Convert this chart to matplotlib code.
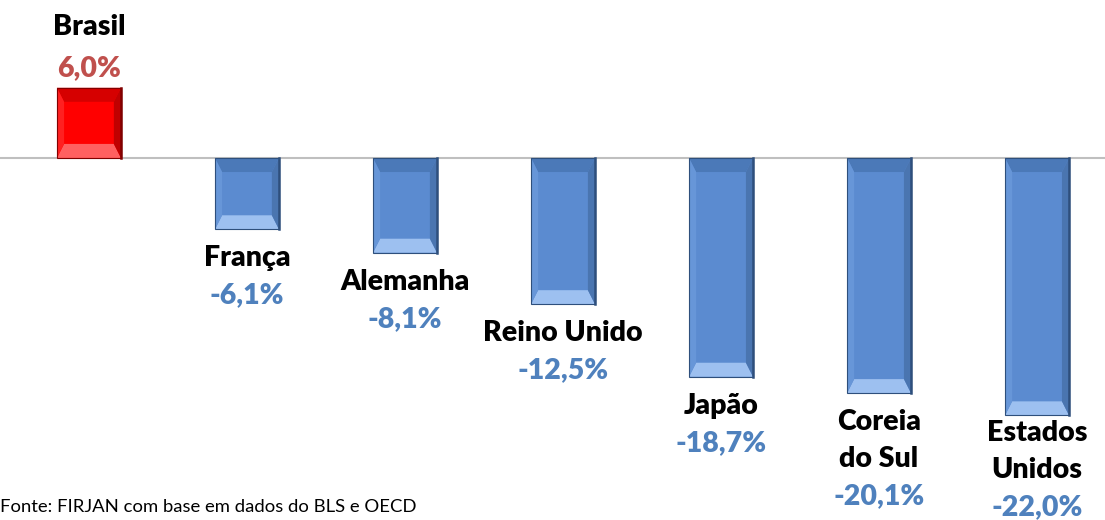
import matplotlib.pyplot as plt
from matplotlib.patches import Polygon, Rectangle

paises = ['Brasil', 'França', 'Alemanha', 'Reino Unido', 'Japão', 'Coreia\ndo Sul', 'Estados\nUnidos']
valores = [6.0, -6.1, -8.1, -12.5, -18.7, -20.1, -22.0]
rotulos = ['6,0%', '-6,1%', '-8,1%', '-12,5%', '-18,7%', '-20,1%', '-22,0%']

fonte = 'Lato'
azul = dict(face='#5B8BD0', top='#4B79B8', bot='#9DC0F0', left='#6796D8', right='#4A75B0', edge='#2E4F7C')
verm = dict(face='#FF0000', top='#D60000', bot='#FF6060', left='#FF2020', right='#C00000', edge='#800000')

fig = plt.figure(figsize=(11.05, 5.2), dpi=100)
ax = fig.add_axes([0, 0, 1, 1])
ax.set_xlim(-0.563, 6.43)
ax.set_ylim(-30.94, 13.5)
ax.axis('off')

ax.axhline(0, color='#BFBFBF', lw=1.5, zorder=1)

w = 0.405
dx = 0.045  # chanfro lateral
dy = 1.2    # chanfro superior/inferior

for i, v in enumerate(valores):
    c = verm if v > 0 else azul
    x0, x1 = i - w / 2, i + w / 2
    y0, y1 = min(0, v), max(0, v)
    ax.add_patch(Rectangle((x0, y0), w, y1 - y0, facecolor=c['face'], edgecolor='none', zorder=2))
    ax.add_patch(Polygon([(x0, y1), (x1, y1), (x1 - dx, y1 - dy), (x0 + dx, y1 - dy)], facecolor=c['top'], edgecolor='none', zorder=3))
    ax.add_patch(Polygon([(x0, y0), (x1, y0), (x1 - dx, y0 + dy), (x0 + dx, y0 + dy)], facecolor=c['bot'], edgecolor='none', zorder=3))
    ax.add_patch(Polygon([(x0, y0), (x0, y1), (x0 + dx, y1 - dy), (x0 + dx, y0 + dy)], facecolor=c['left'], edgecolor='none', zorder=3))
    ax.add_patch(Polygon([(x1, y0), (x1, y1), (x1 - dx, y1 - dy), (x1 - dx, y0 + dy)], facecolor=c['right'], edgecolor='none', zorder=3))
    ax.add_patch(Rectangle((x0, y0), w, y1 - y0, facecolor='none', edgecolor=c['edge'], lw=0.8, zorder=4))
    ax.plot([x1, x1], [y0, y1], color=c['edge'], lw=1.8, zorder=4)

    txt = dict(textcoords='offset points', ha='center', va='center',
               fontsize=20.5, fontweight='heavy', family=fonte)
    if v > 0:
        ax.annotate(rotulos[i], (i, v), xytext=(0, 14), color='#C0504D', **txt)
        ax.annotate(paises[i], (i, v), xytext=(0, 44), color='black', **txt)
    else:
        # o último rótulo fica mais perto da barra para caber na figura
        off = -13 if i == len(valores) - 1 else -20.9
        for linha in paises[i].split('\n'):
            ax.annotate(linha, (i, v), xytext=(0, off), color='black', **txt)
            off -= 26.6
        ax.annotate(rotulos[i], (i, v), xytext=(0, off), color='#4F81BD', **txt)

fig.text(0.0, 0.025, 'Fonte: FIRJAN com base em dados do BLS e OECD',
         fontsize=13.3, family=fonte, color='black', ha='left', va='center')

fig.savefig('out.png', dpi=100)
